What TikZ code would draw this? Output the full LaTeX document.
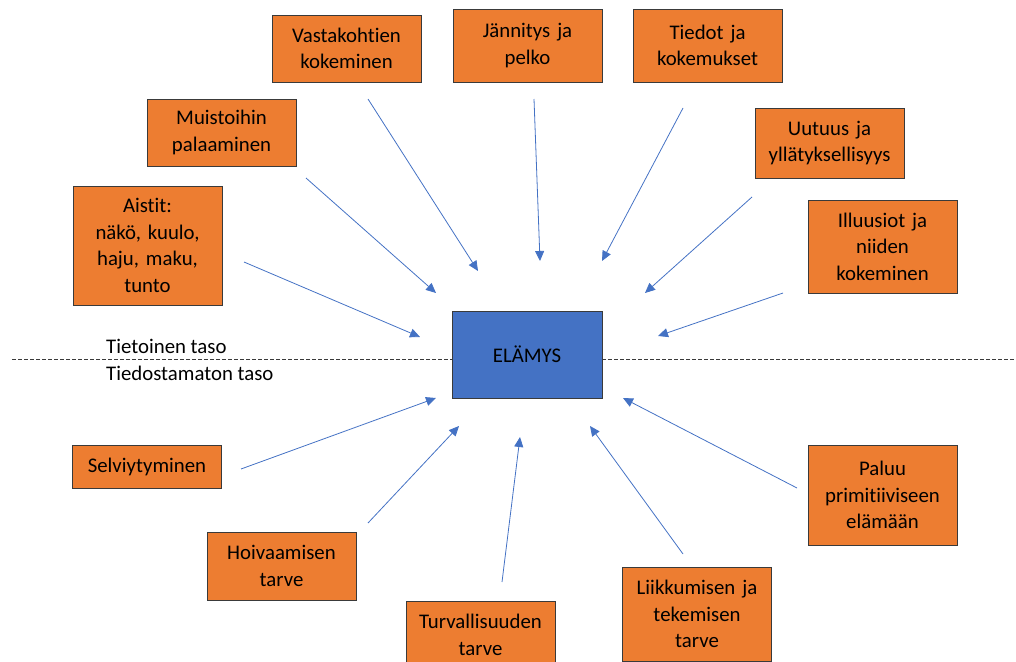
\documentclass[tikz,border=0pt]{standalone}
\usepackage{fontspec}
\setmainfont{Carlito}[Ligatures={NoCommon}]
\usetikzlibrary{arrows.meta}
\definecolor{ideaorange}{HTML}{ED7D31}
\definecolor{coreblue}{HTML}{4472C4}
\definecolor{edgegray}{HTML}{3A3A3A}
\tikzset{
	idea/.style = {rectangle, draw=edgegray, fill=ideaorange, line width=0.9pt,
	 minimum width=149pt, text width=140pt, inner xsep=0pt, inner ysep=0pt, align=center}}
\tikzset{
	core/.style = {rectangle, draw=edgegray, fill=coreblue, line width=0.9pt,
	 minimum width=150pt, minimum height=87pt},
	pull/.style = {draw=coreblue, line width=0.8pt, -{Triangle[length=10pt, width=9pt]}},
	tasoline/.style = {draw=edgegray, line width=0.9pt, dash pattern=on 4pt off 2pt}
	}

\begin{document}
\begin{tikzpicture}[x=1pt, y=-1pt, font=\fontsize{20.8}{26.5}\selectfont]
\useasboundingbox (0,0) rectangle (1016,661);

% NODES
\node (elamys) [core] at (527,354.5) {\raisebox{-4pt}{ELÄMYS}};
\node (vast) [idea, minimum height=67pt] at (346.5,48.5) {Vastakohtien\\kokeminen};
\node (muis) [idea, minimum height=67pt] at (221.5,132.5) {Muistoihin\\palaaminen};
\node (aist) [idea, minimum height=119pt] at (147.5,245.5) {Aistit:\\näkö, kuulo,\\haju, maku,\\tunto};
\node (jann) [idea, minimum height=73pt] at (527.5,45.5) {Jännitys ja\\pelko};
\node (tied) [idea, minimum height=73pt] at (707.5,45.5) {Tiedot ja\\kokemukset};
\node (uutu) [idea, minimum height=70pt] at (829.5,143) {Uutuus ja\\yllätyksellisyys};
\node (illu) [idea, minimum height=93pt] at (882.5,246.5) {Illuusiot ja\\niiden\\kokeminen};
\node (selv) [idea, minimum height=43pt] at (147,466.5) {Selviytyminen};
\node (hoiv) [idea, minimum height=68pt] at (281.5,566) {Hoivaamisen\\tarve};
\node (turv) [idea, minimum height=68pt] at (480.5,635) {Turvallisuuden\\tarve};
\node (liik) [idea, minimum height=94pt] at (697,614) {Liikkumisen ja\\tekemisen\\tarve};
\node (palu) [idea, minimum height=100pt] at (882.5,495) {Paluu\\primitiiviseen\\elämään};

\node (tietoinen) [anchor=west, inner sep=0pt] at (106,346) {Tietoinen taso};
\node (tiedostamaton) [anchor=west, inner sep=0pt] at (106,373) {Tiedostamaton taso};

% arrow ends
\coordinate (vast-from) at (368,99);   \coordinate (vast-to) at (478,271);
\coordinate (muis-from) at (306,178);  \coordinate (muis-to) at (436,293);
\coordinate (aist-from) at (244,262);  \coordinate (aist-to) at (420,337);
\coordinate (jann-from) at (534,99);   \coordinate (jann-to) at (540,261);
\coordinate (tied-from) at (683,108);  \coordinate (tied-to) at (602,261);
\coordinate (uutu-from) at (752,197);  \coordinate (uutu-to) at (645,293);
\coordinate (illu-from) at (783,293);  \coordinate (illu-to) at (658,336);
\coordinate (selv-from) at (241,469);  \coordinate (selv-to) at (436,398);
\coordinate (hoiv-from) at (368,523);  \coordinate (hoiv-to) at (459,426);
\coordinate (turv-from) at (502,582);  \coordinate (turv-to) at (520,437);
\coordinate (liik-from) at (683,554);  \coordinate (liik-to) at (590,426);
\coordinate (palu-from) at (797,488);  \coordinate (palu-to) at (623,398);
\coordinate (taso-left) at (12,359);
\coordinate (taso-right) at (1016,359);

%CONNECTIONS
\foreach \n in {vast, muis, aist, jann, tied, uutu, illu, selv, hoiv, turv, liik, palu}
	\draw [pull] (\n-from) -- (\n-to);
\draw [tasoline] (taso-left) -- (taso-left -| elamys.west);
\draw [tasoline] (taso-right -| elamys.east) -- (taso-right);

\end{tikzpicture}
\end{document}
